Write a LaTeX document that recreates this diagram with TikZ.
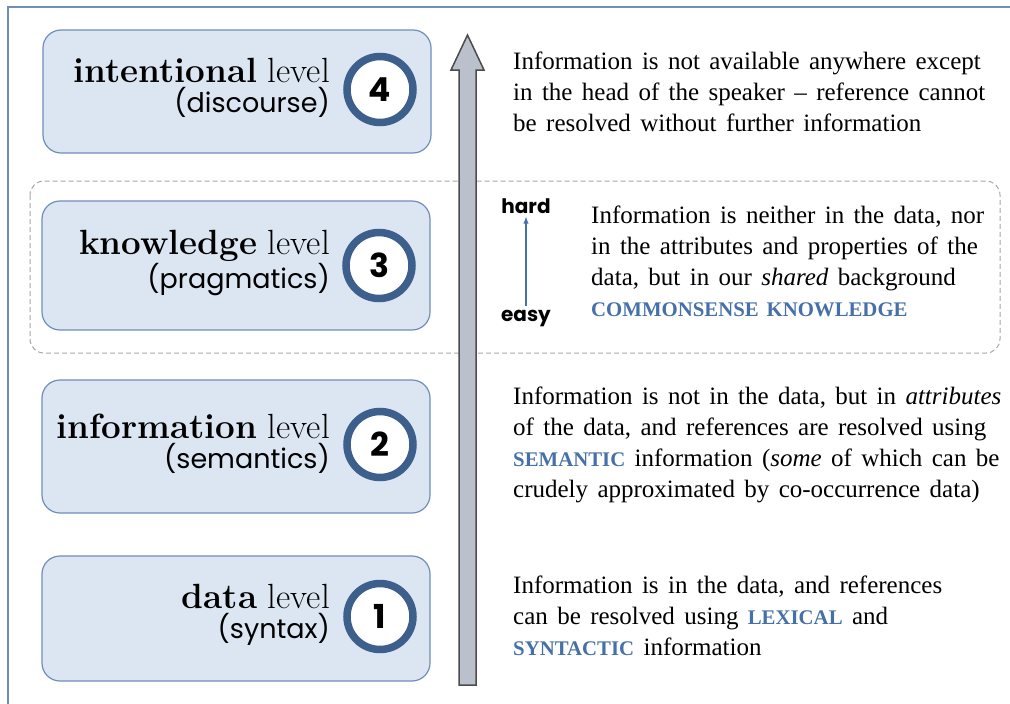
\documentclass[tikz,border=0pt]{standalone}
\usepackage{fontspec}
\newfontfamily\timesfont{Liberation Serif}[WordSpace=1.5]
\newfontfamily\gothicfont{Poppins}
\usetikzlibrary{arrows, fit, shapes}

\definecolor{boxfill}{RGB}{220,230,242}
\definecolor{boxline}{RGB}{110,142,188}
\definecolor{ringblue}{RGB}{60,95,140}
\definecolor{keyblue}{RGB}{70,112,168}
\definecolor{shaftgrey}{RGB}{186,193,205}

\newcommand{\keyword}[1]{{\color{keyblue}\bfseries\fontsize{20.8}{31}\selectfont #1}}
\newcommand{\levelsub}[1]{{\gothicfont\fontsize{27}{30}\selectfont #1}}

\begin{document}
\begin{tikzpicture}[x=1pt, y=-1pt,
  levelbox/.style={draw=boxline, line width=1.2pt, fill=boxfill, rounded corners=18pt, minimum width=388pt},
  badge/.style={circle, draw=ringblue, line width=7.5pt, fill=white, minimum size=66pt, inner sep=0pt,
    font=\gothicfont\bfseries\fontsize{33}{33}\selectfont},
  levelname/.style={align=right, anchor=east, inner sep=0pt, font=\fontsize{35}{30}\selectfont},
  info/.style={align=left, anchor=north west, inner sep=0pt, font=\timesfont\fontsize{25}{31}\selectfont},
  scaleword/.style={inner sep=3pt, font=\gothicfont\bfseries\fontsize{20}{20}\selectfont}]
\useasboundingbox (0,0) rectangle (1010,704);

% frame and knowledge band
\draw[boxline, line width=1.5pt] (8,704) -- (8,7) -- (1010,7);
\draw[gray!70, line width=1pt, dash pattern=on 5pt off 3pt, rounded corners=14pt] (30,181) rectangle (1000,353);

% difficulty arrow
\draw[fill=shaftgrey, draw=black!70, line width=1.5pt] (459,685) -- (459,70) -- (451,70) -- (467.5,35)
  -- (484,70) -- (476,70) -- (476,685) -- cycle;

\node[levelbox, minimum height=123pt] (box4) at (237,91.5) {};
\node[levelbox, minimum height=129pt] (box3) at (236,265.5) {};
\node[levelbox, minimum height=133pt] (box2) at (236,446.5) {};
\node[levelbox, minimum height=125pt] (box1) at (236,618.5) {};

\node[badge] (num4) at (380,89.5) {4};
\node[badge] (num3) at (379,265.5) {3};
\node[badge] (num2) at (380,444.5) {2};
\node[badge] (num1) at (380,616.5) {1};

\node[levelname] (lab4) at (330,88) {\textbf{intentional} level\\\levelsub{(discourse)}};
\node[levelname] (lab3) at (330,263) {\textbf{knowledge} level\\\levelsub{(pragmatics)}};
\node[levelname] (lab2) at (330,444) {\textbf{information} level\\\levelsub{(semantics)}};
\node[levelname] (lab1) at (330,615) {\textbf{data} level\\\levelsub{(syntax)}};

\node[scaleword] (hard) at (526,206) {hard};
\node[scaleword] (easy) at (526,318) {easy};
\draw[-latex, keyblue, line width=1.4pt] (easy) -- (hard);

\node[info] (txt4) at (513,52) {Information is not available anywhere except\\
in the head of the speaker – reference cannot\\be resolved without further information};
\node[info] (txt3) at (591,206) {Information is neither in the data, nor\\
in the attributes and properties of the\\data, but in our \textit{shared} background\\
\keyword{COMMONSENSE KNOWLEDGE}};
\node[info] (txt2) at (513,387) {Information is not in the data, but in \textit{attributes}\\
of the data, and references are resolved using\\\keyword{SEMANTIC} information (\textit{some} of which can be\\
crudely approximated by co-occurrence data)};
\node[info] (txt1) at (513,576) {Information is in the data, and references\\
can be resolved using \keyword{LEXICAL} and\\\keyword{SYNTACTIC} information};
\end{tikzpicture}
\end{document}
